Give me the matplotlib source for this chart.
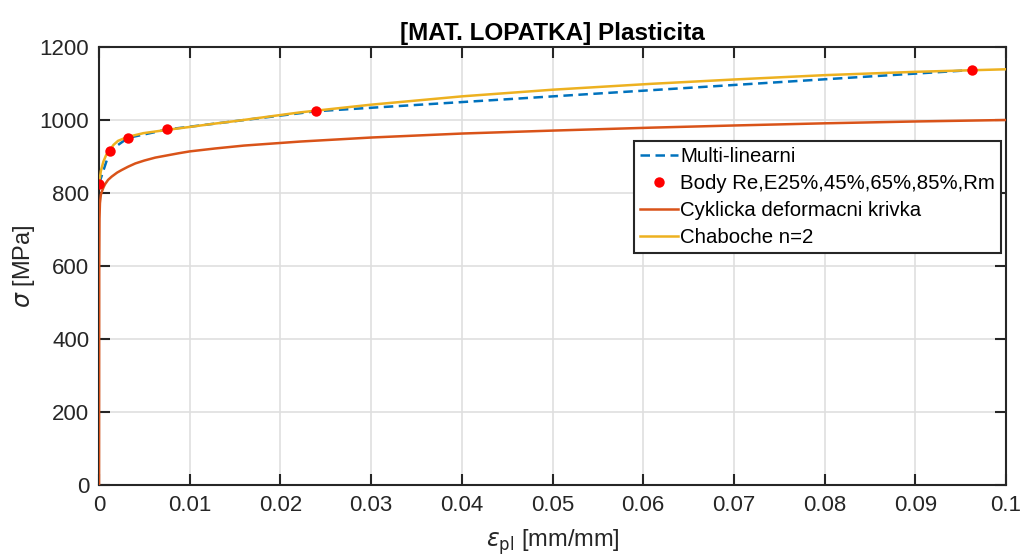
import matplotlib
matplotlib.use("Agg")
import matplotlib.pyplot as plt
from matplotlib.ticker import FixedLocator, FixedFormatter

plt.rcParams['font.family'] = ['Liberation Sans', 'DejaVu Sans']

# Points (Re, E25%, 45%, 65%, 85%, Rm)
pts_x = [0.0, 0.0012, 0.0032, 0.0075, 0.0239, 0.0963]
pts_y = [825, 916, 951, 974, 1024, 1137]

# Multi-linear curve through the points
ml_x = pts_x
ml_y = pts_y

# Cyclic deformation curve
cyc_x = [0.0, 0.00002, 0.00005, 0.0001, 0.0002, 0.0003, 0.0005, 0.00066, 0.001,
         0.0014, 0.002, 0.0025, 0.0032, 0.004, 0.005, 0.0062, 0.0075, 0.0088,
         0.01, 0.0128, 0.016, 0.0222, 0.03, 0.0401, 0.05, 0.0608, 0.07, 0.0801,
         0.09, 0.1]
cyc_y = [0, 600, 730, 772, 795, 803, 816, 824, 836,
         845, 856, 863, 872, 881, 889, 897, 903, 909,
         914, 922, 930, 941, 952, 963, 971, 979, 985, 991,
         996, 1000]

# Chaboche n=2
cha_x = [0.0, 0.0002, 0.00048, 0.0008, 0.0012, 0.0016, 0.0021, 0.0032, 0.0049,
         0.0075, 0.01, 0.0124, 0.015, 0.0222, 0.03, 0.0401, 0.05, 0.0608, 0.07,
         0.0801, 0.09, 0.1]
cha_y = [825, 860, 886, 905, 918, 932, 943, 954, 964,
         973, 981, 989, 997, 1021, 1042, 1065, 1083, 1099, 1111,
         1123, 1132, 1139]

xticks = [0, 0.01, 0.02, 0.03, 0.04, 0.05, 0.06, 0.07, 0.08, 0.09, 0.1]
xticklabels = ['0', '0.01', '0.02', '0.03', '0.04', '0.05', '0.06', '0.07', '0.08', '0.09', '0.1']
yticks = [0, 200, 400, 600, 800, 1000, 1200]

C_BLUE = '#0072BD'
C_ORANGE = '#D95319'
C_YELLOW = '#EDB120'
C_AX = '#262626'

fig = plt.figure(figsize=(10.22, 5.59), dpi=100)
ax = fig.add_axes([0.0969, 0.1324, 0.8875, 0.7835])

ax.plot(ml_x, ml_y, '--', color=C_BLUE, lw=1.8, dashes=(3.8, 2.2), label='Multi-linearni', zorder=3)
ax.plot(pts_x, pts_y, 'o', color='#FF0000', ms=7.5, mec='none', label='Body Re,E25%,45%,65%,85%,Rm', zorder=5)
ax.plot(cyc_x, cyc_y, '-', color=C_ORANGE, lw=1.8, label='Cyklicka deformacni krivka', zorder=4)
ax.plot(cha_x, cha_y, '-', color=C_YELLOW, lw=1.8, label='Chaboche n=2', zorder=4)

ax.set_xlim(0, 0.1)
ax.set_ylim(0, 1200)
ax.xaxis.set_major_locator(FixedLocator(xticks))
ax.xaxis.set_major_formatter(FixedFormatter(xticklabels))
ax.yaxis.set_major_locator(FixedLocator(yticks))

ax.grid(True, color='#DFDFDF', lw=1.2, zorder=0)
ax.set_axisbelow(True)
for s in ax.spines.values():
    s.set_color(C_AX)
    s.set_linewidth(1.5)
ax.tick_params(direction='in', length=8, width=1.5, colors=C_AX, labelsize=16,
               top=True, right=True, pad=7)
for lbl in ax.get_xticklabels() + ax.get_yticklabels():
    lbl.set_color(C_AX)

ax.set_title('[MAT. LOPATKA] Plasticita', fontsize=17.5, fontweight='bold', color='black', pad=5)
ax.set_xlabel(r'$\epsilon_{\mathrm{pl}}$ [mm/mm]', fontsize=17, color=C_AX, labelpad=8)
ax.set_ylabel(r'$\sigma$ [MPa]', fontsize=17, color=C_AX, labelpad=2)

leg = ax.legend(loc='upper left', bbox_to_anchor=(0.590, 0.786), fontsize=14.7,
                frameon=True, fancybox=False, framealpha=1, edgecolor=C_AX,
                borderpad=0.3, labelspacing=0.4, handlelength=1.85, handletextpad=0.1,
                borderaxespad=0)
leg.get_frame().set_linewidth(1.5)
for t in leg.get_texts():
    t.set_color('black')

fig.savefig('out.png', dpi=100)
